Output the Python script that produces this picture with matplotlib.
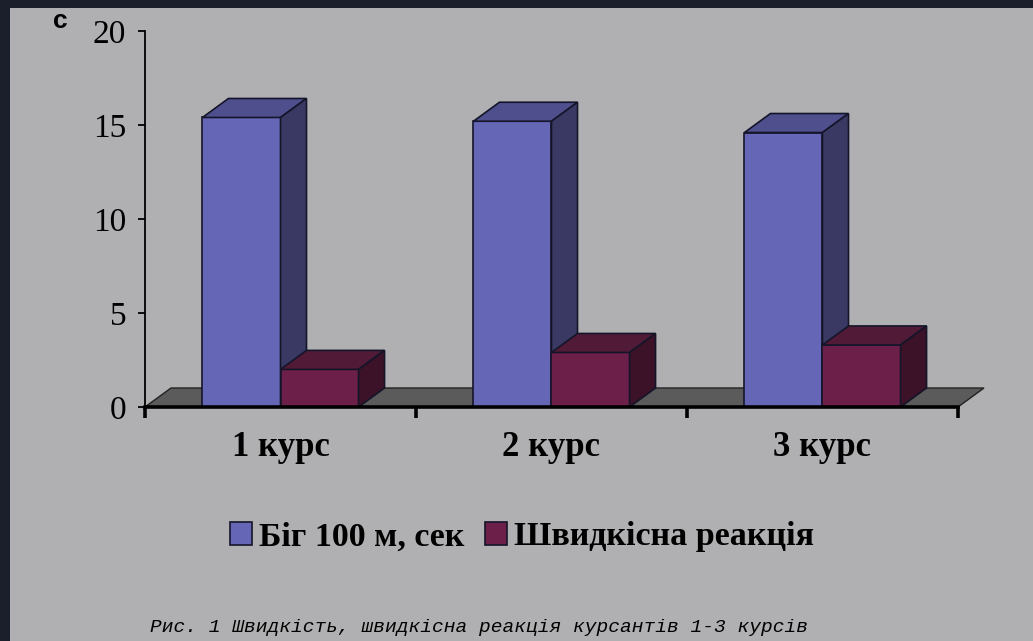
"""
3D-style grouped bars: speed tests of cadets, courses 1-3
"""

import numpy as np
import matplotlib
matplotlib.use("Agg")
import matplotlib.pyplot as plt
from matplotlib.patches import Polygon, Rectangle

categories = ["1 курс", "2 курс", "3 курс"]
run_100m = [15.4, 15.2, 14.6]
reaction = [2.0, 2.9, 3.3]
series_names = ["Біг 100 м, сек", "Швидкісна реакція"]
yticks = [0, 5, 10, 15, 20]
caption = "Рис. 1 Швидкість, швидкісна реакція курсантів 1-3 курсів"

# colors: front, top, side
blue = ("#6666b6", "#4f4f8e", "#393964")
red = ("#6c1f48", "#511a36", "#3b1228")
bg = "#b0b0b2"
frame = "#1a1f2b"

W, H = 1033, 641
fig = plt.figure(figsize=(W / 100, H / 100), dpi=100, facecolor=frame)
fig.patches.append(Rectangle((10 / W, 0), 1, (H - 8) / H, transform=fig.transFigure,
                             facecolor=bg, edgecolor="none", zorder=-10))

ax = fig.add_axes([145 / W, (H - 407) / H, 813 / W, 376 / H])
ax.set_facecolor("none")
ax.set_xlim(0, 3)
ax.set_ylim(0, 20)

# depth offset (data units)
dx = 26 / 271
dy = 19 / 18.8

floor = Polygon([(0, 0), (3, 0), (3 + dx, dy), (dx, dy)], closed=True,
                facecolor="#5b5b5b", edgecolor="#222222", lw=1, clip_on=False, zorder=1)
ax.add_patch(floor)


def box(x0, w, h, cols):
    front = Polygon([(x0, 0), (x0 + w, 0), (x0 + w, h), (x0, h)])
    top = Polygon([(x0, h), (x0 + w, h), (x0 + w + dx, h + dy), (x0 + dx, h + dy)])
    side = Polygon([(x0 + w, 0), (x0 + w + dx, dy), (x0 + w + dx, h + dy), (x0 + w, h)])
    for p, c in zip((front, top, side), cols):
        p.set_facecolor(c)
        p.set_edgecolor("#15152a")
        p.set_linewidth(1.2)
        p.set_clip_on(False)
        p.set_zorder(2)
        ax.add_patch(p)


bw = 0.288
for i in range(len(categories)):
    c = i + 0.5
    box(c - bw, bw, run_100m[i], blue)
    box(c, bw, reaction[i], red)

serif = "Liberation Serif"
for s in ("top", "right"):
    ax.spines[s].set_visible(False)
ax.spines["left"].set_linewidth(1.3)
ax.spines["bottom"].set_linewidth(2.6)
ax.spines["bottom"].set_zorder(3)

ax.set_yticks(yticks)
ax.set_yticklabels([str(v) for v in yticks], fontfamily=serif, fontsize=24)
ax.tick_params(axis="y", length=5, width=1.3, pad=8.5)

ax.set_xticks([0, 1, 2, 3])
ax.set_xticklabels([])
ax.tick_params(axis="x", which="major", length=8, width=2.6)
ax.set_xticks([0.5, 1.5, 2.5], minor=True)
ax.set_xticklabels(categories, minor=True, fontfamily=serif, fontweight="bold", fontsize=25)
ax.tick_params(axis="x", which="minor", length=0, pad=17)

fig.text(60 / W, 1 - 21 / H, "с", fontfamily="Liberation Sans", fontweight="bold",
         fontsize=19, ha="center", va="center")

handles = [Rectangle((0, 0), 1, 1, facecolor=blue[0], edgecolor="#15152a", lw=1.2),
           Rectangle((0, 0), 1, 1, facecolor=red[0], edgecolor="#15152a", lw=1.2)]
fig.legend(handles, series_names, loc="center", bbox_to_anchor=(522 / W, 1 - 537 / H),
           ncol=2, frameon=False, prop={"family": serif, "size": 24.5, "weight": "bold"},
           handlelength=0.66, handleheight=0.66, handletextpad=0.2, columnspacing=0.6)

fig.text(150 / W, 1 - 628 / H, caption, fontfamily="Liberation Mono", fontstyle="italic",
         fontsize=14, ha="left", va="center")

fig.savefig("out.png", dpi=100, facecolor=frame)
